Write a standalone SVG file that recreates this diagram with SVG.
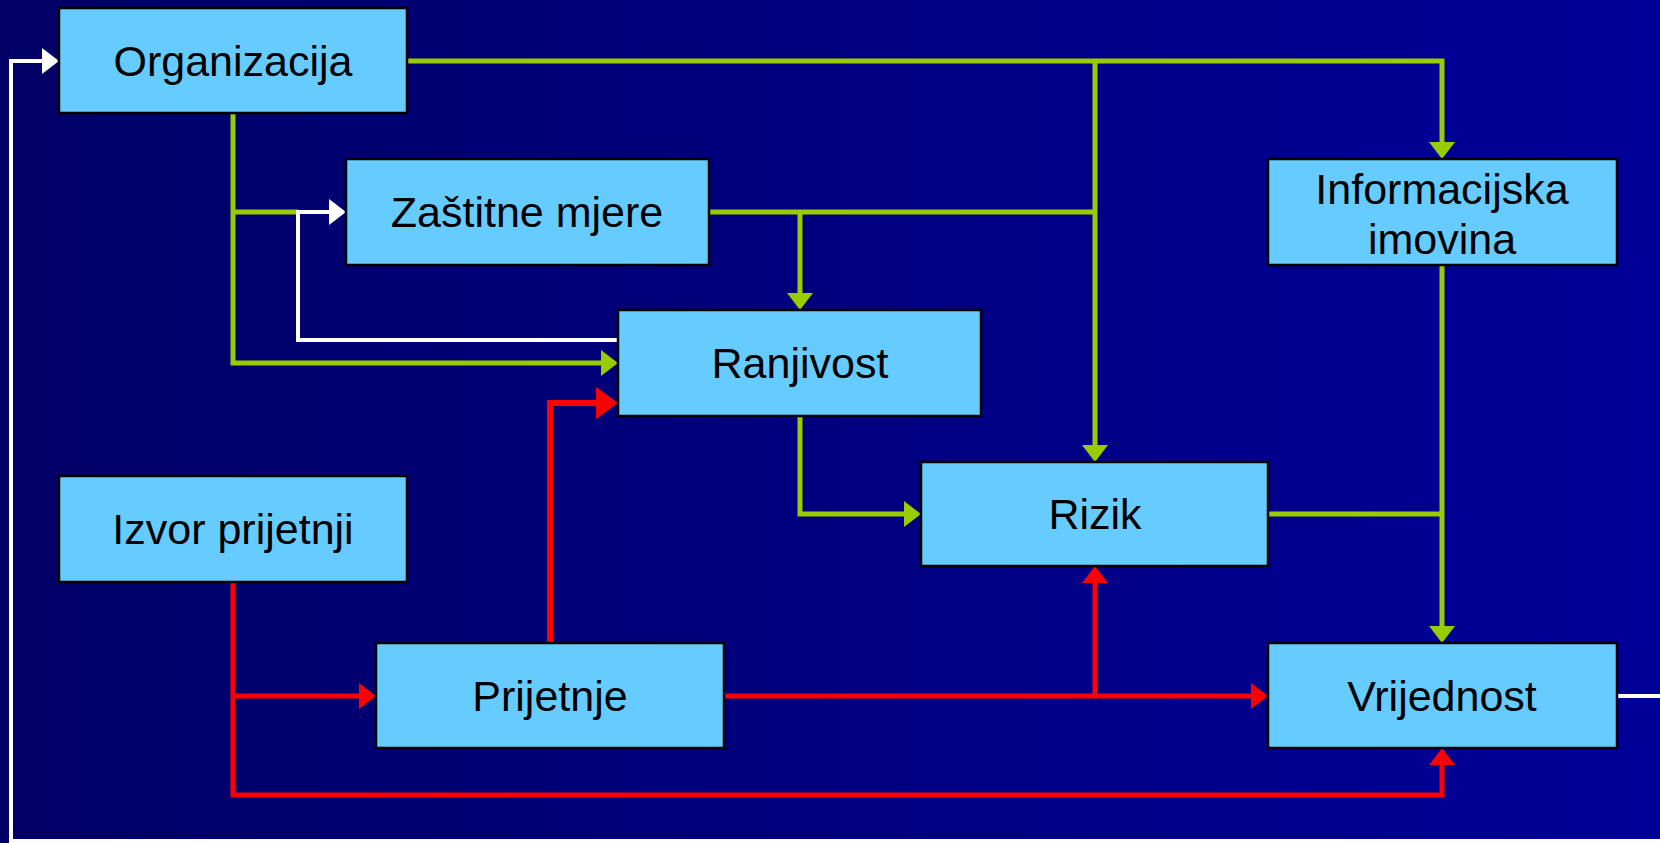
<svg xmlns="http://www.w3.org/2000/svg" width="1660" height="843" viewBox="0 0 1660 843">
<defs>
<linearGradient id="bg" x1="0" y1="0" x2="1" y2="0">
<stop offset="0" stop-color="#000066"/>
<stop offset="1" stop-color="#000099"/>
</linearGradient>
<marker id="ag" markerUnits="userSpaceOnUse" markerWidth="17" markerHeight="26" refX="0" refY="13" orient="auto"><path d="M0,0 L17,13 L0,26 z" fill="#99cc00"/></marker>
<marker id="ar" markerUnits="userSpaceOnUse" markerWidth="17" markerHeight="26" refX="0" refY="13" orient="auto"><path d="M0,0 L17,13 L0,26 z" fill="#ff0000"/></marker>
<marker id="arb" markerUnits="userSpaceOnUse" markerWidth="22" markerHeight="32" refX="0" refY="16" orient="auto"><path d="M0,0 L22,16 L0,32 z" fill="#ff0000"/></marker>
<marker id="aw" markerUnits="userSpaceOnUse" markerWidth="17" markerHeight="26" refX="0" refY="13" orient="auto"><path d="M0,0 L17,13 L0,26 z" fill="#ffffff"/></marker>
</defs>
<style>
.box{fill:#66ccff;stroke:#000000;stroke-width:2.5}
.lbl{font-family:"Liberation Sans",Arial,sans-serif;font-size:43px;fill:#000000;text-anchor:middle}
.g{fill:none;stroke:#99cc00;stroke-width:5}
.r{fill:none;stroke:#ff0000;stroke-width:5}
.rb{fill:none;stroke:#ff0000;stroke-width:6}
.w{fill:none;stroke:#ffffff;stroke-width:4}
</style>
<rect x="0" y="0" width="1660" height="843" fill="url(#bg)"/>
<g id="connectors">
<path class="g" d="M407,61 H1442 V142" marker-end="url(#ag)"/>
<path class="g" d="M1095,61 V445" marker-end="url(#ag)"/>
<path class="g" d="M709,212 H1095"/>
<path class="g" d="M800,212 V293" marker-end="url(#ag)"/>
<path class="g" d="M233,113 V363 H601" marker-end="url(#ag)"/>
<path class="g" d="M233,212 H298"/>
<path class="g" d="M800,416 V514 H904" marker-end="url(#ag)"/>
<path class="g" d="M1268,514 H1442"/>
<path class="g" d="M1442,265 V626" marker-end="url(#ag)"/>
<path class="r" d="M233,582 V795 H1442 V765" marker-end="url(#ar)"/>
<path class="r" d="M233,696 H359" marker-end="url(#ar)"/>
<path class="rb" d="M550,643 V403 H596" marker-end="url(#arb)"/>
<path class="r" d="M724,696 H1251" marker-end="url(#ar)"/>
<path class="r" d="M1095,696 V583" marker-end="url(#ar)"/>
<path class="w" d="M618,340 H298 V212 H329" marker-end="url(#aw)"/>
<path class="w" d="M1617,696 H1672 V841 H11 V61 H42" marker-end="url(#aw)"/>
</g>
<g id="organizacija"><rect class="box" x="59" y="8" width="348" height="105"/><text class="lbl" x="233" y="76">Organizacija</text></g>
<g id="zastitne-mjere"><rect class="box" x="346" y="159" width="363" height="106"/><text class="lbl" x="527" y="227">Zaštitne mjere</text></g>
<g id="informacijska-imovina"><rect class="box" x="1268" y="159" width="349" height="106"/><text class="lbl" x="1442" y="204">Informacijska</text><text class="lbl" x="1442" y="254">imovina</text></g>
<g id="ranjivost"><rect class="box" x="618" y="310" width="363" height="106"/><text class="lbl" x="800" y="378">Ranjivost</text></g>
<g id="rizik"><rect class="box" x="921" y="462" width="347" height="104"/><text class="lbl" x="1095" y="529">Rizik</text></g>
<g id="izvor-prijetnji"><rect class="box" x="59" y="476" width="348" height="106"/><text class="lbl" x="233" y="544">Izvor prijetnji</text></g>
<g id="prijetnje"><rect class="box" x="376" y="643" width="348" height="105"/><text class="lbl" x="550" y="711">Prijetnje</text></g>
<g id="vrijednost"><rect class="box" x="1268" y="643" width="349" height="105"/><text class="lbl" x="1442" y="711">Vrijednost</text></g>
</svg>
